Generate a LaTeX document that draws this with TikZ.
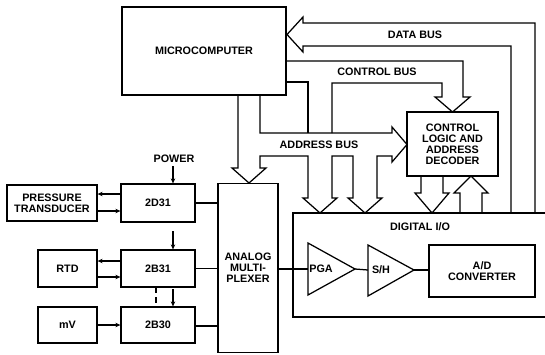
\documentclass[tikz,border=0pt]{standalone}
\usepackage{fontspec}
\setmainfont{Liberation Sans}
\usetikzlibrary{arrows.meta}
\begin{document}
\begin{tikzpicture}[x=1pt,y=-1pt,
  line width=1.25pt, line join=miter,
  txt/.style={font=\fontsize{10.8}{11}\selectfont\bfseries, align=center, inner sep=0pt},
  blk/.style={draw, txt, line width=1.25pt},
  sig/.style={-{Stealth[length=5pt,width=4.5pt]}, line width=1.1pt},
  bus/.style={line width=1.25pt}]
\useasboundingbox (0,0) rectangle (545,354);

% blocks
\node[blk, minimum width=164pt, minimum height=88pt] (mc) at (204,51) {MICROCOMPUTER};
\node[blk, minimum width=91pt, minimum height=64pt] (cl) at (452.5,144) {CONTROL\\LOGIC AND\\ADDRESS\\DECODER};
\node[blk, minimum width=60pt, minimum height=169pt] (mux) at (248,268) {ANALOG\\MULTI-\\PLEXER};
\node[blk, minimum width=90pt, minimum height=36pt] (pt) at (52,203) {PRESSURE\\TRANSDUCER};
\node[blk, minimum width=74pt, minimum height=38pt] (d31) at (158,203) {2D31};
\node[blk, minimum width=59pt, minimum height=37pt] (rtd) at (67.5,268.5) {RTD};
\node[blk, minimum width=74pt, minimum height=37pt] (b31) at (158,268.5) {2B31};
\node[blk, minimum width=59pt, minimum height=36pt] (mv) at (67.5,325) {mV};
\node[blk, minimum width=74pt, minimum height=36pt] (b30) at (158,325) {2B30};
\node[blk, minimum width=106pt, minimum height=52pt] (ad) at (482,271) {A/D\\CONVERTER};

% digital I/O frame (open to the right)
\draw (545,213) -- (293,213) -- (293,317) -- (545,317);
\node[txt] (dio) at (420,227) {DIGITAL I/O};

% PGA and S/H triangles
\coordinate (pgaIn) at (308,269);
\coordinate (pgaOut) at (355,269);
\coordinate (shIn) at (368,270);
\coordinate (shOut) at (414,270);
\draw (308,243) -- (pgaOut) -- (308,295) -- cycle;
\draw (368,245) -- (shOut) -- (368,296) -- cycle;
\node[txt] (pga) at (321,269) {PGA};
\node[txt] (sh) at (381,270) {S/H};

% analog signal path
\draw (mux.east |- pgaIn) -- (pgaIn);
\draw (pgaOut) -- (shIn);
\draw (shOut) -- (ad.west |- shOut);

% sensor connections
\draw (d31.east) -- (d31.east -| mux.west);
\draw (b31.east) -- (b31.east -| mux.west);
\draw ([yshift=-1pt]b30.east) -- ([yshift=-1pt]b30.east -| mux.west);
\draw[sig] (d31.west |- 0,194) -- (pt.east |- 0,194);
\draw[sig] (pt.east |- 0,211) -- (d31.west |- 0,211);
\draw[sig] (b31.west |- 0,261) -- (rtd.east |- 0,261);
\draw[sig] (rtd.east |- 0,277) -- (b31.west |- 0,277);
\draw[sig] (mv.east) -- (b30.west);

% power
\node[txt] (pw) at (174,159) {POWER};
\coordinate (p1) at (173,166);
\coordinate (p2) at (173,231);
\coordinate (p3) at (173,289);
\draw[sig] (p1) -- (p1 |- d31.north);
\draw[sig] (p2) -- (p2 |- b31.north);
\draw[sig] (p3) -- (p3 |- b30.north);
\draw[dashed, dash pattern=on 6pt off 4pt] (156,287) -- (156,307);

% data bus
\draw[bus] (535,213) -- (535,23) -- (303,23) -- (303,17) -- (287,34.5) -- (303,52) -- (303,46) -- (511,46) -- (511,213);
\node[txt] (db) at (415,35) {DATA BUS};

% control bus
\draw[bus] (286,61) -- (463,61) -- (463,97) -- (470,97) -- (452.5,112) -- (435,97) -- (442,97) -- (442,83) -- (332,83) -- (332,133);
\draw[bus] (286,82) -- (308,82) -- (308,133);
\node[txt] (cb) at (377,72) {CONTROL BUS};

% address bus + multiplexer bus
\draw[bus] (260,95) -- (260,133) -- (392,133) -- (392,127) -- (407,144.5) -- (392,162) -- (392,156)
  -- (377,156) -- (377,198) -- (382,198) -- (365,213) -- (348,198) -- (353,198) -- (353,156)
  -- (332,156) -- (332,198) -- (337,198) -- (320,213) -- (303,198) -- (308,198) -- (308,156)
  -- (260,156) -- (260,168) -- (266,168) -- (249,183) -- (232,168) -- (238,168) -- (238,95);
\node[txt] (ab) at (319,145) {ADDRESS BUS};

% control logic <-> digital I/O
\draw[bus] (421,176) -- (421,193) -- (415,193) -- (432,213) -- (449,193) -- (443,193) -- (443,176);
\draw[bus] (460,213) -- (460,193) -- (454,193) -- (471,176) -- (488,193) -- (482,193) -- (482,213);
\end{tikzpicture}
\end{document}
